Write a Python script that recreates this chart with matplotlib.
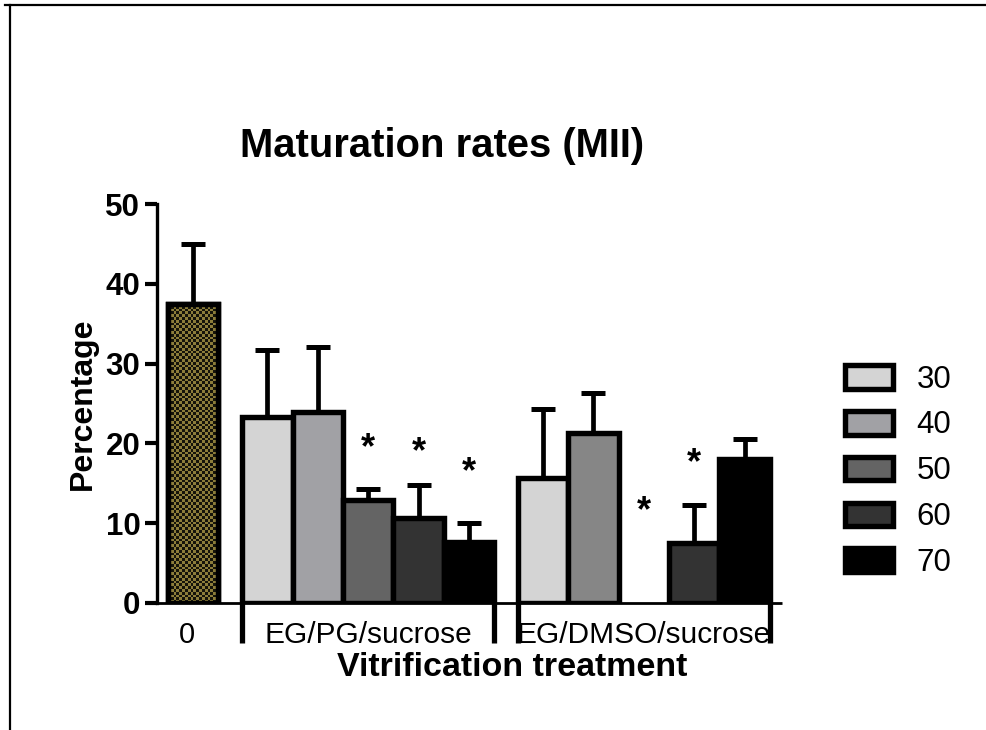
import numpy as np
import matplotlib
matplotlib.use("Agg")
import matplotlib.pyplot as plt
from matplotlib.colors import ListedColormap
from matplotlib.lines import Line2D

plt.rcParams['font.family'] = ['Liberation Sans', 'DejaVu Sans']

# ---------------- data ----------------
title = "Maturation rates (MII)"
ylabel = "Percentage"
xlabel = "Vitrification treatment"
groups = ["EG/PG/sucrose", "EG/DMSO/sucrose"]
series = ["30", "40", "50", "60", "70"]
control_label = "0"
control_mean = 37.5
control_err = 7.5
pg_means = [23.3, 23.9, 12.9, 10.7, 7.6]
pg_errs = [8.4, 8.2, 1.4, 4.1, 2.4]
dmso_means = [15.7, 21.3, np.nan, 7.5, 18.0]
dmso_errs = [8.6, 5.0, np.nan, 4.8, 2.6]
# significance stars: (group index, series index, y position)
stars = [(0, 2, 19.4), (0, 3, 18.9), (0, 4, 16.3), (1, 2, 11.4), (1, 3, 17.5)]
yticks = [0, 10, 20, 30, 40, 50]

pg_colors = ["#d4d4d4", "#a1a1a5", "#646464", "#333333", "#000000"]
dmso_colors = ["#d4d4d4", "#868686", "#646464", "#333333", "#000000"]
control_color = "#8c7d3a"

# ---------------- figure ----------------
W, H = 986, 730
fig = plt.figure(figsize=(W / 100, H / 100), dpi=100)
ax_l, ax_r, ax_t, ax_b = 157, 782, 204, 603
ax = fig.add_axes([ax_l / W, 1 - ax_b / H, (ax_r - ax_l) / W, (ax_b - ax_t) / H])
XL = (-0.72, 11.68)

lw_edge = 3.9
bw = 1.0
gap = 0.47
ctrl_x = 0.0
g1_start = ctrl_x + 0.5 + gap + 0.5
g1_x = [g1_start + i * bw for i in range(len(series))]
g2_start = g1_x[-1] + 0.5 + gap + 0.5
g2_x = [g2_start + i * bw for i in range(len(series))]
group_x = [g1_x, g2_x]

err_kw = dict(fmt='none', ecolor='black', elinewidth=3.4, capsize=8.5,
              capthick=3.6, zorder=1)

# control bar with checker pattern
cbar = ax.bar([ctrl_x], [control_mean], width=bw, color=control_color,
              edgecolor='black', linewidth=lw_edge, zorder=2)
rect = cbar.patches[0]
x0, w0, h0 = rect.get_x(), rect.get_width(), rect.get_height()
w_px = w0 * (ax_r - ax_l) / (XL[1] - XL[0])
h_px = h0 * (ax_b - ax_t) / 50.0
cell = 2.8
ncol = max(int(round(w_px / cell)), 1)
nrow = max(int(round(h_px / cell)), 1)
checker = (np.add.outer(np.arange(nrow), np.arange(ncol)) % 2)
im = ax.imshow(checker, extent=(x0, x0 + w0, 0, h0), aspect='auto',
               cmap=ListedColormap(['#15140a', control_color]),
               interpolation='nearest', zorder=2.2)
im.set_clip_path(rect)
ax.bar([ctrl_x], [control_mean], width=bw, fill=False, edgecolor='black',
       linewidth=lw_edge, zorder=3)
ax.errorbar([ctrl_x], [control_mean], yerr=[[0], [control_err]], **err_kw)

handles = []
for gi, (means, errs, cols) in enumerate([(pg_means, pg_errs, pg_colors),
                                          (dmso_means, dmso_errs, dmso_colors)]):
    xs = group_x[gi]
    bars = ax.bar(xs, means, width=bw, color=cols, edgecolor='black',
                  linewidth=lw_edge, zorder=2)
    ax.errorbar(xs, means, yerr=[np.zeros(len(errs)), errs], **err_kw)
    if gi == 0:
        handles = list(bars.patches)

for gi, si, yv in stars:
    ax.text(group_x[gi][si], yv, "*", ha='center', va='center',
            fontsize=26, fontweight='bold')

ax.set_xlim(*XL)
ax.set_ylim(0, 50)
ax.set_yticks(yticks)
ax.set_yticklabels([str(t) for t in yticks], fontsize=22.5, fontweight='bold')
ax.tick_params(axis='y', length=9, width=3, direction='out', pad=3)
ax.set_xticks([])
for s in ['top', 'right']:
    ax.spines[s].set_visible(False)
ax.spines['left'].set_linewidth(2.4)
ax.spines['bottom'].set_linewidth(2.0)
ax.spines['bottom'].set_capstyle('butt')

# group separator ticks and category labels
trans = ax.get_xaxis_transform()
tick_len = 40 / (ax_b - ax_t)
for xs in group_x:
    for xe in (xs[0] - 0.5 * bw, xs[-1] + 0.5 * bw):
        ax.add_line(Line2D([xe, xe], [0, -tick_len], transform=trans,
                           color='black', lw=3.8, clip_on=False,
                           solid_capstyle='butt'))
lab_y = -(635 - ax_b) / (ax_b - ax_t)
ax.text(ctrl_x - 0.13, lab_y, control_label, transform=trans, ha='center',
        va='center', fontsize=21)
for gi, xs in enumerate(group_x):
    ax.text((xs[0] + xs[-1]) / 2, lab_y, groups[gi], transform=trans,
            ha='center', va='center', fontsize=21.5)

# titles
fig.text(442 / W, 1 - 146 / H, title, ha='center', va='center',
         fontsize=28.8, fontweight='bold')
fig.text(512 / W, 1 - 668 / H, xlabel, ha='center', va='center',
         fontsize=24.5, fontweight='bold')
fig.text(83 / W, 1 - 404 / H, ylabel, ha='center', va='center',
         fontsize=23, fontweight='bold', rotation=90)

# legend
leg = fig.legend(handles, series, loc='upper left',
                 bbox_to_anchor=(832 / W, 1 - 352 / H), frameon=False,
                 fontsize=22.5, handlelength=1.55, handleheight=0.8,
                 handletextpad=0.75, labelspacing=0.51, borderaxespad=0)

# page frame (left and top lines)
fig.add_artist(Line2D([10 / W, 10 / W], [0, 1 - 5 / H], color='black', lw=1.6,
                      transform=fig.transFigure))
fig.add_artist(Line2D([5 / W, 985 / W], [1 - 5 / H, 1 - 5 / H], color='black',
                      lw=1.6, transform=fig.transFigure))

fig.savefig("out.png", dpi=100)
